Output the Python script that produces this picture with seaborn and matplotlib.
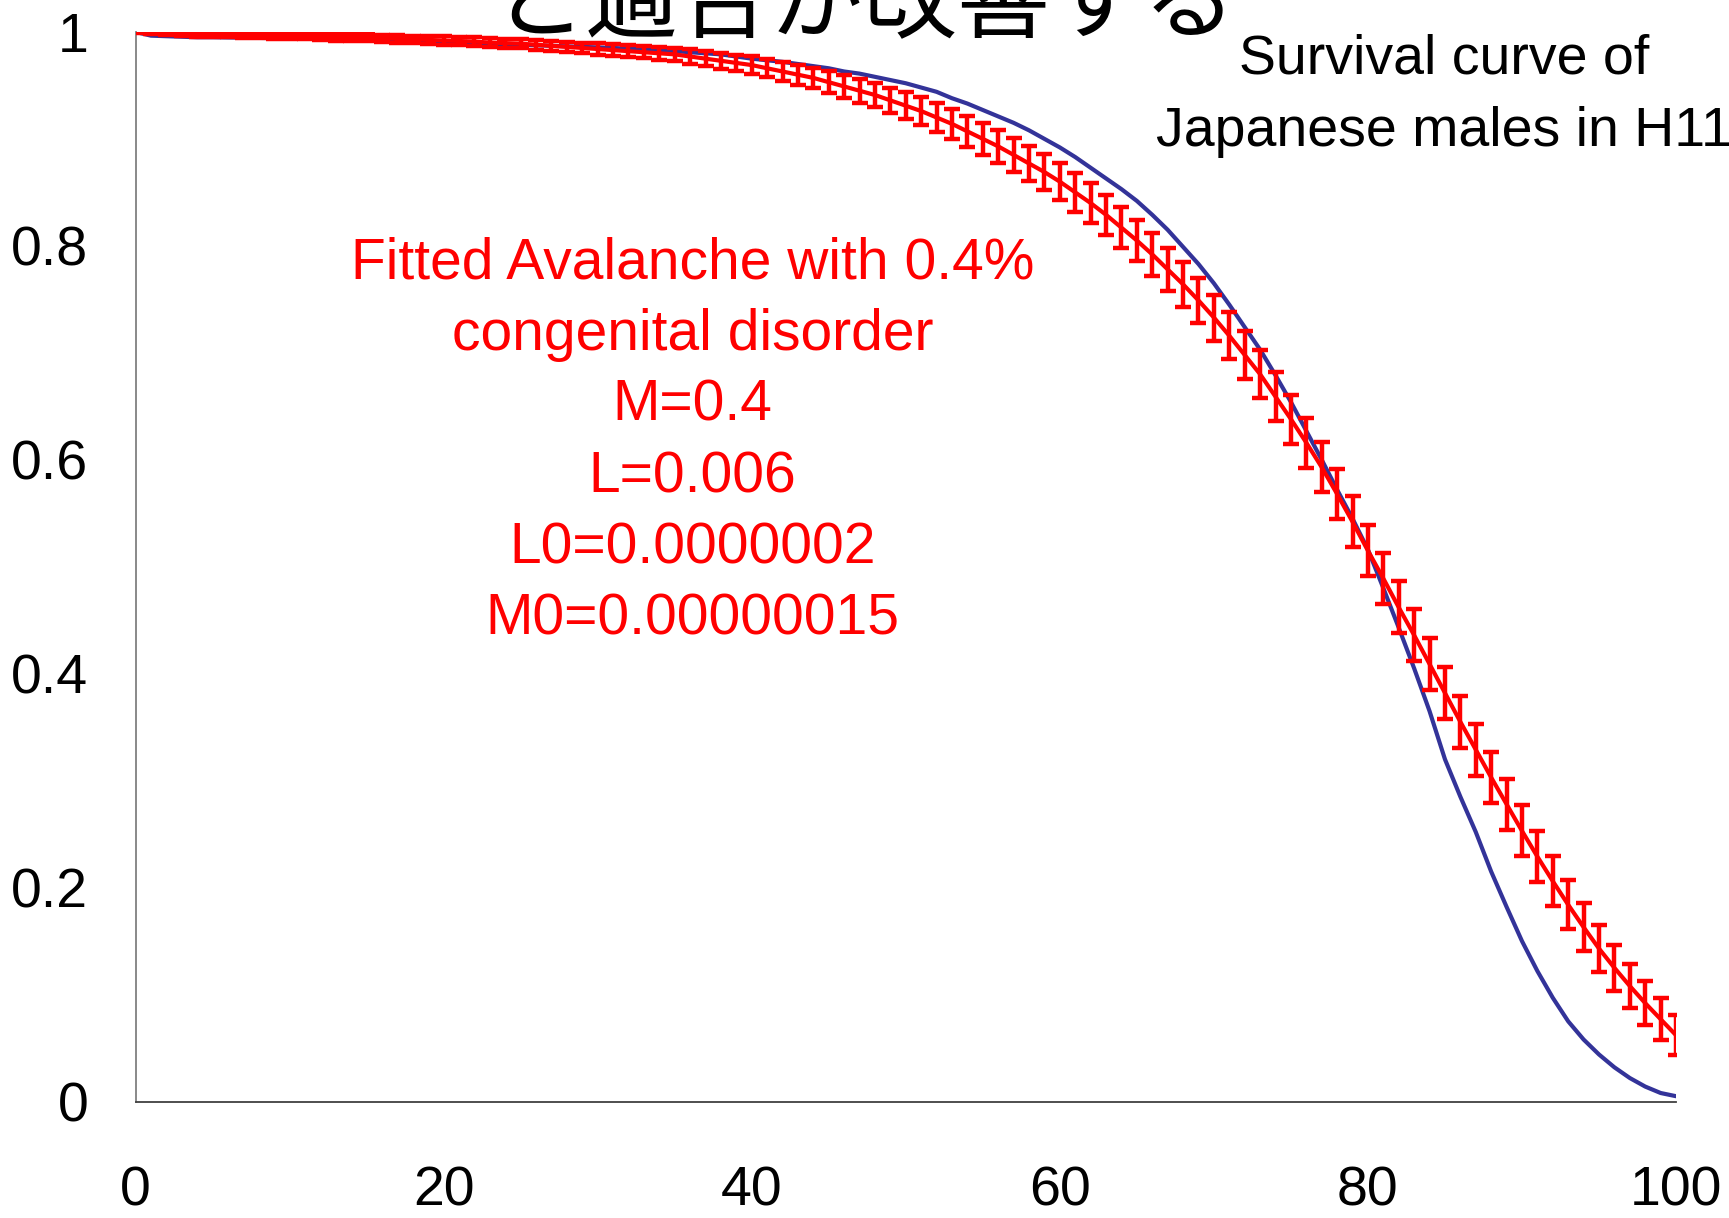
import numpy as np
import pandas as pd
import matplotlib
matplotlib.use("Agg")
import matplotlib.pyplot as plt
import seaborn as sns

# Age in years (one point per year of life)
ages = list(range(0, 101))

# Observed survival curve of Japanese males (H11 life table)
observed_survival = [
    1.000, 0.9965, 0.996, 0.9955, 0.995, 0.995, 0.9948, 0.9946, 0.9944, 0.9942,
    0.994, 0.9938, 0.9936, 0.9933, 0.993, 0.9926, 0.9921, 0.9915, 0.9908, 0.990,
    0.9905, 0.990, 0.9895, 0.989, 0.9885, 0.988, 0.9875, 0.987, 0.9865, 0.986,
    0.9855, 0.985, 0.9843, 0.9836, 0.9828, 0.982, 0.981, 0.980, 0.979, 0.977,
    0.975, 0.9735, 0.972, 0.970, 0.968, 0.966, 0.963, 0.961, 0.958, 0.955,
    0.952, 0.948, 0.944, 0.938, 0.933, 0.927, 0.921, 0.915, 0.908, 0.900,
    0.892, 0.883, 0.873, 0.863, 0.853, 0.842, 0.829, 0.815, 0.799, 0.783,
    0.765, 0.745, 0.724, 0.703, 0.679, 0.654, 0.627, 0.600, 0.572, 0.545,
    0.516, 0.480, 0.443, 0.405, 0.365, 0.320, 0.285, 0.252, 0.215, 0.182,
    0.150, 0.122, 0.097, 0.075, 0.058, 0.044, 0.032, 0.022, 0.014, 0.008,
    0.005,
]

# Fitted avalanche model survival (mean of simulations)
fitted_survival = [
    1.000, 0.9995, 0.999, 0.9985, 0.998, 0.998, 0.9975, 0.997, 0.997, 0.9965,
    0.996, 0.996, 0.9955, 0.995, 0.995, 0.9945, 0.994, 0.9935, 0.993, 0.9925,
    0.992, 0.9915, 0.991, 0.990, 0.9895, 0.989, 0.988, 0.987, 0.986, 0.985,
    0.984, 0.983, 0.982, 0.981, 0.980, 0.979, 0.977, 0.975, 0.973, 0.971,
    0.969, 0.966, 0.963, 0.960, 0.957, 0.953, 0.949, 0.945, 0.941, 0.936,
    0.931, 0.926, 0.920, 0.914, 0.907, 0.900, 0.893, 0.885, 0.877, 0.869,
    0.860, 0.850, 0.840, 0.829, 0.817, 0.805, 0.792, 0.778, 0.764, 0.749,
    0.733, 0.716, 0.698, 0.680, 0.659, 0.638, 0.616, 0.593, 0.568, 0.542,
    0.515, 0.489, 0.462, 0.436, 0.409, 0.382, 0.355, 0.329, 0.303, 0.278,
    0.253, 0.229, 0.206, 0.184, 0.163, 0.143, 0.125, 0.108, 0.092, 0.077,
    0.062,
]

# Spread of the fitted survival (half width of the error bar)
fitted_error = [
    0.001, 0.0015, 0.002, 0.002, 0.0025, 0.0025, 0.0025, 0.0025, 0.0028, 0.0028,
    0.003, 0.003, 0.0031, 0.0031, 0.0033, 0.0033, 0.0034, 0.0035, 0.0035, 0.0037,
    0.0038, 0.0038, 0.004, 0.0041, 0.0043, 0.0044, 0.0045, 0.0046, 0.0048, 0.005,
    0.0052, 0.0054, 0.0056, 0.0058, 0.006, 0.0063, 0.0066, 0.007, 0.0074, 0.0078,
    0.0081, 0.0085, 0.0089, 0.0093, 0.0096, 0.010, 0.0105, 0.011, 0.0114, 0.0119,
    0.0124, 0.0129, 0.0134, 0.0139, 0.0144, 0.0149, 0.0154, 0.0159, 0.0164, 0.0169,
    0.0174, 0.0179, 0.0184, 0.0188, 0.0193, 0.0196, 0.020, 0.0204, 0.0208, 0.0211,
    0.0215, 0.0219, 0.0222, 0.0225, 0.0228, 0.023, 0.0233, 0.0235, 0.0238, 0.0239,
    0.024, 0.0241, 0.0243, 0.0244, 0.0244, 0.0244, 0.0244, 0.0243, 0.0241, 0.024,
    0.0238, 0.0235, 0.0233, 0.0229, 0.0225, 0.022, 0.0215, 0.0209, 0.0203, 0.0195,
    0.0188,
]

x_ticks = [0, 20, 40, 60, 80, 100]
y_ticks = [0, 0.2, 0.4, 0.6, 0.8, 1.0]
y_tick_labels = ["0", "0.2", "0.4", "0.6", "0.8", "1"]

title_text = "と適合が改善する"
observed_label = "Survival curve of\nJapanese males in H11"
fit_label = ("Fitted Avalanche with 0.4%\ncongenital disorder\nM=0.4\nL=0.006\n"
             "L0=0.0000002\nM0=0.00000015")

sns.set_theme(style="white")
plt.rcParams["font.family"] = ["Liberation Sans", "Noto Sans CJK JP", "DejaVu Sans"]

df = pd.DataFrame({
    "age": ages,
    "observed": observed_survival,
    "fitted": fitted_survival,
    "err": fitted_error,
})

fig = plt.figure(figsize=(17.29, 12.18), dpi=100)
ax = fig.add_axes([0.07837, 0.0956, 0.8910, 0.8782])

sns.lineplot(data=df, x="age", y="observed", ax=ax, color="#333399",
             linewidth=3.0, zorder=2)
sns.lineplot(data=df, x="age", y="fitted", ax=ax, color="#ff0000",
             linewidth=3.0, zorder=3)
ax.errorbar(df["age"], df["fitted"], yerr=df["err"], fmt="none",
            ecolor="#ff0000", elinewidth=3.2, capsize=5.8, capthick=3.2,
            zorder=3)

ax.set_xlim(0, 100)
ax.set_ylim(0, 1)
ax.set_xticks(x_ticks)
ax.set_xticklabels([str(t) for t in x_ticks])
ax.set_yticks(y_ticks)
ax.set_yticklabels(y_tick_labels)
ax.set_xlabel("")
ax.set_ylabel("")

for side in ("top", "right"):
    ax.spines[side].set_visible(False)
ax.spines["left"].set_color("#808080")
ax.spines["left"].set_linewidth(1.3)
ax.spines["bottom"].set_color("#404040")
ax.spines["bottom"].set_linewidth(1.3)

ax.tick_params(axis="x", direction="in", length=13, width=1.2,
               colors="#707070", labelcolor="black", labelsize=40, pad=46)
ax.tick_params(axis="y", direction="in", length=12, width=1.2,
               colors="#707070", labelcolor="black", labelsize=40, pad=34)

ax.text(0.4005, 0.6375, fit_label, transform=fig.transFigure, ha="center",
        va="center", color="#ff0000", fontsize=41, linespacing=1.41)
fig.text(0.835, 0.9215, observed_label, ha="center", va="center",
         color="black", fontsize=40, linespacing=1.50)
fig.text(0.5, 0.9742, title_text, ha="center", va="baseline", fontsize=67,
         color="black", family=["Noto Sans CJK JP", "DejaVu Sans"])

fig.savefig("out.png", dpi=100)
